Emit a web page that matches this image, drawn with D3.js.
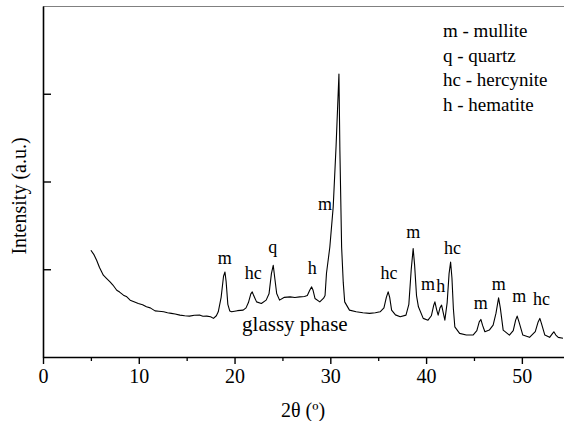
<!DOCTYPE html>
<html>
<head>
<meta charset="utf-8">
<script src="https://cdn.jsdelivr.net/npm/d3@7"></script>
<style>
body { margin: 0; background: #fff; }
</style>
</head>
<body>
<div id="chart"></div>
<script>
// XRD pattern, values (intensity in arbitrary counts)
var twoTheta = [5.0, 5.3, 5.6, 5.9, 6.3, 6.6, 7.0, 7.3, 7.7, 8.0, 8.4, 8.7, 9.1, 9.5, 9.95, 10.4, 10.8, 11.2, 11.7, 12.1,
	12.6, 13.0, 13.4, 13.8, 14.3, 14.8, 15.3, 15.8, 16.4, 16.7, 17.1, 17.5, 17.8, 18.1, 18.3, 18.6, 18.85, 19.0, 19.12, 19.3,
	19.5, 19.7, 20.3, 20.9, 21.2, 21.45, 21.7, 21.85, 22.0, 22.3, 22.8, 23.3, 23.6, 23.85, 24.04, 24.2, 24.4, 24.7, 25.2, 25.8,
	26.3, 26.8, 27.3, 27.6, 27.85, 28.05, 28.2, 28.4, 28.9, 29.3, 29.45, 29.6, 29.95, 30.3, 30.6, 30.9, 31.0, 31.18, 31.35, 31.5,
	32.0, 32.7, 33.4, 34.1, 34.7, 35.2, 35.6, 35.85, 36.04, 36.2, 36.4, 36.8, 37.3, 37.9, 38.2, 38.45, 38.65, 38.8, 39.0, 39.2,
	39.7, 40.2, 40.55, 40.8, 40.92, 41.1, 41.26, 41.45, 41.62, 41.8, 41.96, 42.2, 42.4, 42.56, 42.7, 42.85, 43.0, 43.5, 44.2, 44.9,
	45.3, 45.55, 45.72, 45.9, 46.14, 46.6, 47.0, 47.3, 47.57, 47.75, 48.05, 48.7, 49.1, 49.35, 49.51, 49.7, 50.1, 50.8, 51.4, 51.7,
	51.88, 52.05, 52.4, 52.9, 53.15, 53.34, 53.55, 53.8, 54.3];
var intensity = [1216, 1170, 1102, 1020, 932, 900, 856, 820, 761, 740, 705, 690, 648, 630, 610, 595, 572, 560, 526, 522,
	515, 505, 497, 490, 477, 470, 466, 475, 477, 465, 466, 458, 440, 470, 515, 680, 920, 969, 860, 600,
	525, 515, 528, 534, 560, 620, 720, 742, 700, 628, 610, 648, 720, 950, 1045, 900, 724, 648, 680, 685,
	678, 685, 690, 700, 760, 799, 760, 667, 628, 670, 700, 955, 1253, 1708, 2400, 3224, 2352, 1253, 850, 628,
	534, 515, 505, 497, 505, 515, 560, 680, 742, 680, 534, 480, 458, 477, 600, 1000, 1235, 1050, 700, 572,
	440, 420, 470, 590, 628, 540, 477, 560, 591, 500, 420, 620, 950, 1083, 900, 550, 344, 269, 250, 250,
	300, 400, 428, 360, 288, 307, 364, 500, 674, 560, 307, 250, 300, 420, 466, 400, 250, 224, 290, 400,
	440, 380, 250, 224, 260, 288, 250, 224, 213];

// peak labels, anchored in data units (baseline of text)
var peakText = ["m", "hc", "q", "h", "m", "hc", "m", "m", "h", "hc", "m", "m", "m", "hc"];
var peakTheta = [18.99, 21.95, 23.98, 28.11, 29.44, 36.12, 38.65, 40.19, 41.54, 42.77, 45.72, 47.6, 49.72, 52.06];
var peakLevel = [1057, 886, 1190, 951, 1678, 886, 1360, 769, 742, 1170, 542, 769, 629, 591];

var legendLines = ["m - mullite", "q - quartz", "hc - hercynite", "h - hematite"];

var xTicks = [0, 10, 20, 30, 40, 50];
var xMinor = [5, 15, 25, 35, 45];
var yTicks = [1000, 2000, 3000];

var serif = "'Liberation Serif', 'Times New Roman', serif";
var width = 564, height = 421;
var svg = d3.select("#chart").append("svg").attr("width", width).attr("height", height);

var stx = 43, enx = 564, sty = 6, eny = 357;
var xscale = d3.scaleLinear().domain([0, 54.4]).range([stx, enx]);
var yscale = d3.scaleLinear().domain([0, 4000]).range([eny, sty]);

// top frame line
svg.append("line").attr("x1", stx).attr("x2", enx).attr("y1", sty + 0.5).attr("y2", sty + 0.5)
	.attr("stroke", "#808080").attr("stroke-width", 1);

// x axis, minor ticks first
svg.append("g").attr("transform", "translate(0," + eny + ")")
	.call(d3.axisBottom(xscale).tickValues(xMinor).tickSize(4).tickFormat(""))
	.call(function(g) { g.select(".domain").remove(); })
	.selectAll("line").attr("stroke-width", 1.3);

var xg = svg.append("g").attr("transform", "translate(0," + eny + ")")
	.call(d3.axisBottom(xscale).tickValues(xTicks).tickSize(7).tickSizeOuter(0).tickPadding(5));
xg.select(".domain").attr("stroke-width", 1.6);
xg.selectAll("line").attr("stroke-width", 1.4);
xg.selectAll("text").attr("font-size", 20);

// y axis, ticks pointing inward, no labels
var yg = svg.append("g").attr("transform", "translate(" + stx + ",0)")
	.call(d3.axisRight(yscale).tickValues(yTicks).tickSize(8).tickSizeOuter(0).tickFormat(""));
yg.select(".domain").attr("stroke-width", 1.6);
yg.selectAll("line").attr("stroke-width", 1.4);

// pattern
var pts = twoTheta.map(function(d, i) { return [d, intensity[i]]; });
var line = d3.line().x(function(d) { return xscale(d[0]); }).y(function(d) { return yscale(d[1]); });
svg.append("path").datum(pts).attr("d", line)
	.attr("fill", "none").attr("stroke", "#000").attr("stroke-width", 1.1).attr("stroke-linejoin", "round");

// peak labels
svg.selectAll(".peak").data(peakText).enter().append("text").attr("class", "peak")
	.attr("x", function(d, i) { return xscale(peakTheta[i]); })
	.attr("y", function(d, i) { return yscale(peakLevel[i]); })
	.attr("text-anchor", "middle").attr("font-size", 18)
	.text(function(d) { return d; });

svg.append("text").attr("x", xscale(26.3)).attr("y", yscale(291))
	.attr("text-anchor", "middle").attr("font-size", 21).text("glassy phase");

// legend
svg.selectAll(".leg").data(legendLines).enter().append("text").attr("class", "leg")
	.attr("x", 443).attr("y", function(d, i) { return 37 + i * 24.5; })
	.attr("font-size", 19).text(function(d) { return d; });

// axis titles
svg.append("text").attr("x", 303).attr("y", 417).attr("text-anchor", "middle")
	.attr("font-size", 20).text("2\u03b8 (\u00ba)");
svg.append("text").attr("transform", "translate(26,196) rotate(-90)").attr("text-anchor", "middle")
	.attr("font-size", 20).text("Intensity (a.u.)");

svg.selectAll("text").style("font-family", serif).attr("fill", "#000");
</script>
</body>
</html>
